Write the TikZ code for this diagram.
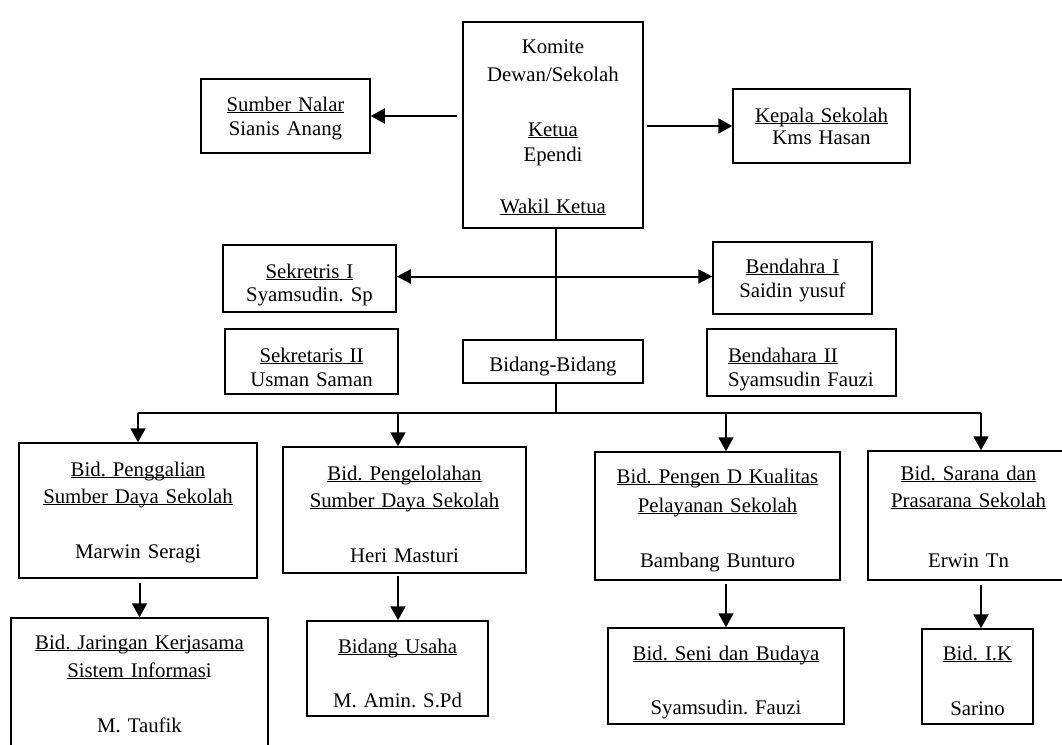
\documentclass[tikz,border=0pt]{standalone}
\usepackage{fontspec}
\setmainfont{Liberation Serif}
\usetikzlibrary{arrows.meta,calc}
\frenchspacing
\newcommand\myul[1]{\leavevmode\setbox0\hbox{#1}\rlap{\rule[-1.2pt]{\wd0}{0.5pt}}\box0}
\begin{document}
\begin{tikzpicture}[x=0.5pt,y=-0.5pt,
  ob/.style={draw,line width=0.75pt,inner sep=0pt,anchor=base,align=center,
    font=\fontsize{10.4pt}{12pt}\selectfont\frenchspacing},
  lowbox/.style={ob,font=\fontsize{10.4pt}{13.5pt}\selectfont\frenchspacing},
  ln/.style={line width=1pt},
  arr/.style={ln,-{Triangle[length=7pt,width=7.5pt]}},
  arrtwo/.style={ln,{Triangle[length=7pt,width=7pt]}-{Triangle[length=7pt,width=7pt]}}]
\useasboundingbox (0,0) rectangle (1062,745);
\clip (0,0) rectangle (1062,745);
% top row
\node[ob,text width=90pt,text height=15.5pt,text depth=87.5pt] (komite) at (553,53)
  {Komite\\[2pt] Dewan/Sekolah\\[15.5pt] \myul{Ketua}\\[0.5pt] Ependi\\[14pt] \myul{Wakil Ketua}};
\node[ob,text width=84.5pt,text height=16pt,text depth=21pt] (snalar) at (285.5,111)
  {\myul{Sumber Nalar}\\ Sianis Anang};
\node[ob,text width=88.5pt,text height=16.5pt,text depth=20.5pt] (kepala) at (821.5,122)
  {\myul{Kepala Sekolah}\\[-1pt] Kms Hasan};
% second rows
\node[ob,text width=86.5pt,text height=16.5pt,text depth=17pt] (sek1) at (309.5,278)
  {\myul{Sekretris I}\\[-0.5pt] Syamsudin. Sp};
\node[ob,text width=79.5pt,text height=15.5pt,text depth=20.5pt] (bend1) at (792.5,273)
  {\myul{Bendahra I}\\ Saidin yusuf};
\node[ob,text width=86.5pt,text height=16.5pt,text depth=16pt] (sek2) at (311.5,362)
  {\myul{Sekretaris II}\\ Usman Saman};
\node[ob,text width=90pt,text height=15.5pt,text depth=6pt] (bidang) at (553,371)
  {Bidang-Bidang};
\node[ob,align=left,text width=94.5pt,text height=16.5pt,text depth=17pt] (bend2) at (801.5,362)
  {\hspace*{10.5pt}\myul{Bendahara II}\\ \hspace*{10.5pt}Syamsudin Fauzi};
% bidang boxes
\node[lowbox,text width=119pt,text height=16.5pt,text depth=51pt] (pgal) at (138,476)
  {\myul{Bid. Penggalian}\\ \myul{Sumber Daya Sekolah}\\[14pt] Marwin Seragi};
\node[lowbox,text width=121.5pt,text height=16.5pt,text depth=46.5pt] (pkel) at (404.5,480)
  {\myul{Bid. Pengelolahan}\\ \myul{Sumber Daya Sekolah}\\[14pt] Heri Masturi};
\node[lowbox,text width=122.5pt,text height=15.5pt,text depth=48.5pt] (pengen) at (717.5,483)
  {\myul{Bid. Pengen D Kualitas}\\[1pt] \myul{Pelayanan Sekolah}\\[14pt] Bambang Bunturo};
\node[lowbox,text width=100.5pt,text height=14.5pt,text depth=50pt] (sarana) at (968.5,480)
  {\myul{Bid. Sarana dan}\\ \myul{Prasarana Sekolah}\\[16.5pt] Erwin Tn};
% sub boxes
\node[lowbox,text width=128.5pt,text height=15.5pt,text depth=55.5pt] (jar) at (139.5,649)
  {\myul{Bid. Jaringan Kerjasama}\\[0.5pt] \myul{Sistem Informas}i\\[14pt] M. Taufik};
\node[lowbox,text width=90.5pt,text height=16pt,text depth=31.5pt] (usaha) at (397.5,653)
  {\myul{Bidang Usaha}\\[13.5pt] M. Amin. S.Pd};
\node[lowbox,text width=118pt,text height=16pt,text depth=32pt] (seni) at (726,660)
  {\myul{Bid. Seni dan Budaya}\\[13.5pt] Syamsudin. Fauzi};
\node[lowbox,text width=55.5pt,text height=15.5pt,text depth=32pt] (ik) at (977.5,660)
  {\myul{Bid. I.K}\\[14pt] Sarino};
% connectors top
\draw[arr] ($(komite.west |- snalar.east)+(-5,0)$) -- (snalar.east);
\draw[arr] ($(komite.east |- kepala.west)+(3,0)$) -- (kepala.west);
\draw[ln] ($(komite.south)+(3,0)$) -- ($(bidang.north)+(3,0)$);
\draw[arrtwo] ($(sek1.east)+(0,-2)$) -- ($(sek1.east -| bend1.west)+(0,-2)$);
% bus
\coordinate (bl) at (138,413);
\coordinate (b2) at (398,413);
\coordinate (bj) at (556,413);
\coordinate (b3) at (726,413);
\coordinate (br) at (981,413);
\draw[ln] ($(bidang.south)+(3,0)$) -- (bj);
\draw[ln] (bl) -- (br);
\draw[arr] (bl) -- (bl |- pgal.north);
\draw[arr] (b2) -- (b2 |- pkel.north);
\draw[arr] (b3) -- (b3 |- pengen.north);
\draw[arr] (br) -- (br |- sarana.north);
% sub connectors
\draw[arr] ($(pgal.south -| jar.north)+(0,4)$) -- (jar.north);
\draw[arr] ($(pkel.south -| b2)+(0,2)$) -- (usaha.north -| b2);
\draw[arr] ($(pengen.south -| b3)+(0,3)$) -- (seni.north -| b3);
\draw[arr] ($(sarana.south -| br)+(0,4)$) -- (ik.north -| br);
\end{tikzpicture}
\end{document}
